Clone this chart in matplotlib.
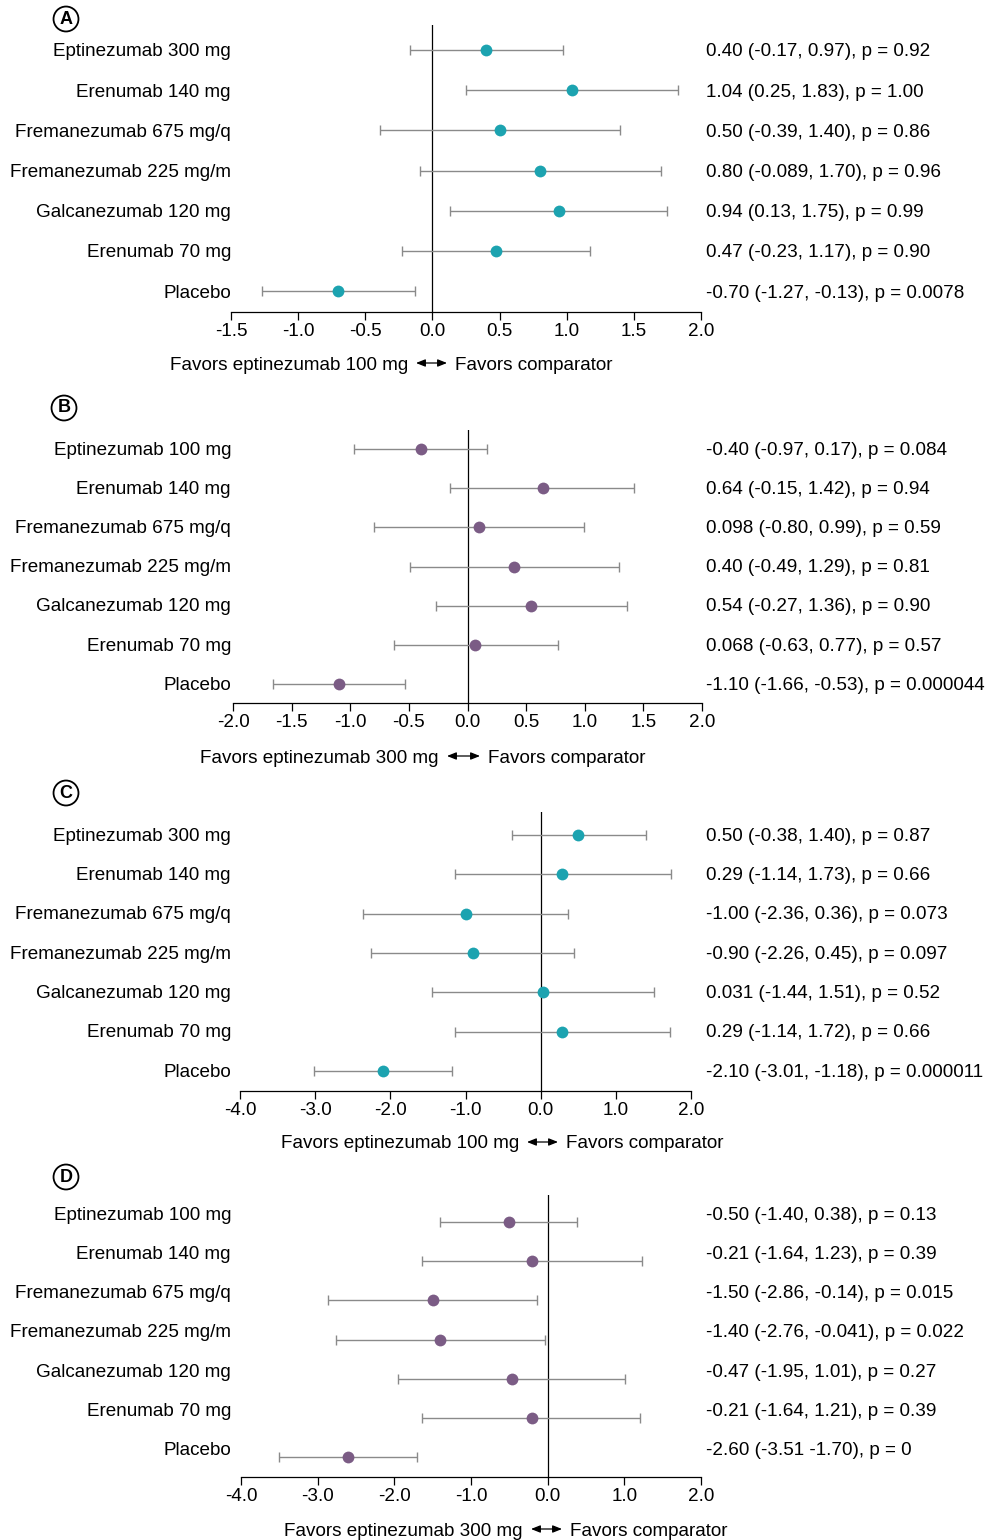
import matplotlib
matplotlib.use('Agg')
import matplotlib.pyplot as plt
from matplotlib.patches import FancyArrowPatch
from matplotlib.ticker import MultipleLocator, FormatStrFormatter
from matplotlib.transforms import blended_transform_factory

plt.rcParams['font.family'] = ['Liberation Sans', 'DejaVu Sans']
plt.rcParams['axes.unicode_minus'] = False

W, H = 986, 1540
TEAL = '#1ca3b0'
PURPLE = '#7b5c85'
FS = 13.6

# ---- data ----
drugs_a = ['Eptinezumab 300 mg', 'Erenumab 140 mg', 'Fremanezumab 675 mg/q',
           'Fremanezumab 225 mg/m', 'Galcanezumab 120 mg', 'Erenumab 70 mg', 'Placebo']
drugs_b = ['Eptinezumab 100 mg', 'Erenumab 140 mg', 'Fremanezumab 675 mg/q',
           'Fremanezumab 225 mg/m', 'Galcanezumab 120 mg', 'Erenumab 70 mg', 'Placebo']

est_a = [0.40, 1.04, 0.50, 0.80, 0.94, 0.47, -0.70]
lo_a = [-0.17, 0.25, -0.39, -0.089, 0.13, -0.23, -1.27]
hi_a = [0.97, 1.83, 1.40, 1.70, 1.75, 1.17, -0.13]
txt_a = ['0.40 (-0.17, 0.97), p = 0.92', '1.04 (0.25, 1.83), p = 1.00',
         '0.50 (-0.39, 1.40), p = 0.86', '0.80 (-0.089, 1.70), p = 0.96',
         '0.94 (0.13, 1.75), p = 0.99', '0.47 (-0.23, 1.17), p = 0.90',
         '-0.70 (-1.27, -0.13), p = 0.0078']

est_b = [-0.40, 0.64, 0.098, 0.40, 0.54, 0.068, -1.10]
lo_b = [-0.97, -0.15, -0.80, -0.49, -0.27, -0.63, -1.66]
hi_b = [0.17, 1.42, 0.99, 1.29, 1.36, 0.77, -0.53]
txt_b = ['-0.40 (-0.97, 0.17), p = 0.084', '0.64 (-0.15, 1.42), p = 0.94',
         '0.098 (-0.80, 0.99), p = 0.59', '0.40 (-0.49, 1.29), p = 0.81',
         '0.54 (-0.27, 1.36), p = 0.90', '0.068 (-0.63, 0.77), p = 0.57',
         '-1.10 (-1.66, -0.53), p = 0.000044']

est_c = [0.50, 0.29, -1.00, -0.90, 0.031, 0.29, -2.10]
lo_c = [-0.38, -1.14, -2.36, -2.26, -1.44, -1.14, -3.01]
hi_c = [1.40, 1.73, 0.36, 0.45, 1.51, 1.72, -1.18]
txt_c = ['0.50 (-0.38, 1.40), p = 0.87', '0.29 (-1.14, 1.73), p = 0.66',
         '-1.00 (-2.36, 0.36), p = 0.073', '-0.90 (-2.26, 0.45), p = 0.097',
         '0.031 (-1.44, 1.51), p = 0.52', '0.29 (-1.14, 1.72), p = 0.66',
         '-2.10 (-3.01, -1.18), p = 0.000011']

est_d = [-0.50, -0.21, -1.50, -1.40, -0.47, -0.21, -2.60]
lo_d = [-1.40, -1.64, -2.86, -2.76, -1.95, -1.64, -3.51]
hi_d = [0.38, 1.23, -0.14, -0.041, 1.01, 1.21, -1.70]
txt_d = ['-0.50 (-1.40, 0.38), p = 0.13', '-0.21 (-1.64, 1.23), p = 0.39',
         '-1.50 (-2.86, -0.14), p = 0.015', '-1.40 (-2.76, -0.041), p = 0.022',
         '-0.47 (-1.95, 1.01), p = 0.27', '-0.21 (-1.64, 1.21), p = 0.39',
         '-2.60 (-3.51 -1.70), p = 0']

favors_a = 'Favors eptinezumab 100 mg'
favors_b = 'Favors eptinezumab 300 mg'

# ---- layout (pixels) ----
# letter, labels, est, lo, hi, text, favors, color, xlim, xstep,
# ax left, ax right, zero-line top, first row, last row, axis y,
# text y offset (rows), letter pos, arrow x0, arrow x1, favors y
panels = [
    ('A', drugs_a, est_a, lo_a, hi_a, txt_a, favors_a, TEAL, (-1.5, 2.0), 0.5,
     231, 701, 25, 50, 291, 312, 0.0, (66, 19), 416, 447, 363),
    ('B', drugs_b, est_b, lo_b, hi_b, txt_b, favors_b, PURPLE, (-2.0, 2.0), 0.5,
     233, 702, 430, 449, 684, 703, 0.02, (64, 408), 447, 480, 756),
    ('C', drugs_a, est_c, lo_c, hi_c, txt_c, favors_a, TEAL, (-4.0, 2.0), 1.0,
     240, 691, 812, 835, 1071, 1091, 0.02, (66, 793), 527, 558, 1142),
    ('D', drugs_b, est_d, lo_d, hi_d, txt_d, favors_b, PURPLE, (-4.0, 2.0), 1.0,
     241, 701, 1195, 1222, 1457, 1477, 0.22, (66, 1177), 531, 562, 1529),
]

fig = plt.figure(figsize=(W / 100, H / 100), dpi=100)

for (letter, labels, est, lo, hi, txt, fav, color, xlim, xstep,
     x0, x1, ytop, yr0, yr6, yax, toff, lpos, ax0, ax1, fy) in panels:
    n = len(labels)
    sp = (yr6 - yr0) / (n - 1)
    ax = fig.add_axes([x0 / W, 1 - yax / H, (x1 - x0) / W, (yax - ytop) / H])
    ax.set_xlim(*xlim)
    ax.set_ylim((n - 1) + (yax - yr6) / sp, -(yr0 - ytop) / sp)
    rows = list(range(n))
    ax.axvline(0, color='black', lw=0.9, zorder=1)
    xerr = [[e - l for e, l in zip(est, lo)], [h - e for e, h in zip(est, hi)]]
    ax.errorbar(est, rows, xerr=xerr, fmt='none', ecolor='#8a8a8a', elinewidth=1.0,
                capsize=3.5, capthick=1.0, zorder=2)
    ax.plot(est, rows, 'o', color=color, ms=8.5, mec='none', zorder=3)

    for s in ['top', 'right', 'left']:
        ax.spines[s].set_visible(False)
    ax.spines['bottom'].set_linewidth(0.9)
    ax.set_yticks([])
    ax.xaxis.set_major_locator(MultipleLocator(xstep))
    ax.xaxis.set_major_formatter(FormatStrFormatter('%.1f'))
    ax.tick_params(axis='x', length=6, width=0.9, pad=2, labelsize=FS)

    tr = blended_transform_factory(fig.transFigure, ax.transData)
    for i, (lab, t) in enumerate(zip(labels, txt)):
        ax.text(231 / W, i - toff, lab, transform=tr, ha='right',
                va='center_baseline', fontsize=FS)
        ax.text(706 / W, i - toff, t, transform=tr, ha='left',
                va='center_baseline', fontsize=FS)

    fig.text(lpos[0] / W, 1 - lpos[1] / H, letter, ha='center', va='center',
             fontsize=13, fontweight='bold',
             bbox=dict(boxstyle='circle,pad=0.22', fc='white', ec='black', lw=1.3))

    yf = 1 - fy / H
    fig.text((ax0 - 8) / W, yf, fav, ha='right', va='center_baseline', fontsize=FS)
    fig.text((ax1 + 8) / W, yf, 'Favors comparator', ha='left',
             va='center_baseline', fontsize=FS)
    fig.patches.append(FancyArrowPatch(
        (ax0 / W, yf), (ax1 / W, yf), transform=fig.transFigure,
        arrowstyle='<|-|>,head_length=5.5,head_width=2.2', color='black', lw=0.9,
        shrinkA=0, shrinkB=0))

fig.savefig('out.png', dpi=100)
